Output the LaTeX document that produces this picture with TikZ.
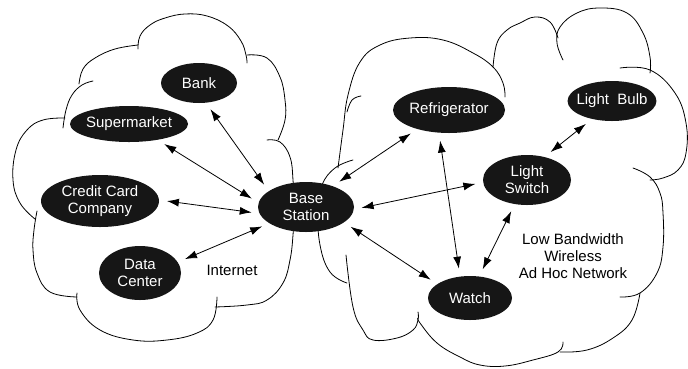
\documentclass[tikz,border=0pt]{standalone}
\usepackage{fontspec}
\setmainfont{Liberation Sans}
\usetikzlibrary{shapes.geometric,arrows.meta}
\definecolor{nodefill}{RGB}{22,22,22}
\begin{document}
\begin{tikzpicture}[x=1pt,y=-1pt,
  cloudline/.style={line width=0.8pt, line join=round, line cap=round},
  dev/.style={ellipse, fill=nodefill, text=white, inner xsep=-4pt, inner ysep=0pt, outer sep=0pt, align=center, font=\fontsize{15}{17}\selectfont},
  plain/.style={align=center, font=\fontsize{15}{17}\selectfont, inner sep=0pt},
  link/.style={line width=0.8pt, {Latex[length=12pt,width=8pt]}-{Latex[length=12pt,width=8pt]}, shorten <=8pt, shorten >=8pt}]
\useasboundingbox (0,0) rectangle (688,368);

% left cloud (Internet)
\begin{scope}[cloudline]
\draw plot[smooth, tension=0.7] coordinates {(138,49) (140,36) (150,25) (165,18) (185,14) (207,16) (228,26) (241,41) (246,55) (247,63)};
\draw plot[smooth, tension=0.7] coordinates {(79,84) (83,69) (95,58) (115,49) (138,45)};
\draw plot[smooth, tension=0.7] coordinates {(63,128) (66,110) (72,95) (82,85) (93,81)};
\draw plot[smooth, tension=0.7] coordinates {(65,118) (43,120) (27,130) (16,150) (13,180) (20,203) (35,219)};
\draw plot[smooth, tension=0.7] coordinates {(37,211) (34,230) (33,250) (37,273) (50,292) (77,297)};
\draw plot[smooth, tension=0.7] coordinates {(77,293) (80,310) (100,330) (133,340) (167,340) (197,333) (213,320) (217,297)};
\draw plot[smooth, tension=0.7] coordinates {(267,140) (280,142) (290,157) (293,180) (294,210) (293,235) (290,260) (283,283) (267,300) (247,305) (215,307)};
\draw plot[smooth, tension=0.7] coordinates {(247,55) (267,58) (280,77) (285,100) (285,120) (278,140)};
\end{scope}

% right cloud (ad hoc network)
\begin{scope}[cloudline]
\draw plot[smooth, tension=0.7] coordinates {(353,160) (335,168) (322,185) (318,210) (320,245) (330,272) (347,283)};
\draw plot[smooth, tension=0.7] coordinates {(338,168) (343,130) (348,95) (360,62) (380,45) (410,38) (443,40) (473,53) (493,67) (503,83) (505,97)};
\draw plot[smooth, tension=0.7] coordinates {(347,112) (352,100) (361,96)};
\draw plot[smooth, tension=0.7] coordinates {(493,67) (497,43) (507,30) (520,23) (535,17) (550,22) (558,38)};
\draw plot[smooth, tension=0.7] coordinates {(563,60) (557,43) (560,27) (577,13) (600,8) (627,13) (643,33) (650,57) (650,73)};
\draw plot[smooth, tension=0.7] coordinates {(620,68) (650,70) (675,93) (686,123) (686,153) (678,170) (663,178) (650,180)};
\draw plot[smooth, tension=0.7] coordinates {(633,168) (650,177) (660,193) (663,213) (663,247) (657,273) (640,293) (620,297)};
\draw plot[smooth, tension=0.7] coordinates {(640,293) (632,320) (613,338) (587,350) (560,352)};
\draw plot[smooth, tension=0.7] coordinates {(563,342) (558,352) (533,360) (505,366) (480,365) (460,357) (437,343) (420,323) (418,318)};
\draw plot[smooth, tension=0.7] coordinates {(418,312) (418,320) (413,330) (397,338) (373,340) (363,330) (353,307) (346,255)};
\end{scope}

% devices
\node[dev, minimum width=76pt, minimum height=40pt] (bank) at (199,83) {Bank};
\node[dev, minimum width=118pt, minimum height=36pt] (super) at (129,124) {Supermarket};
\node[dev, minimum width=118pt, minimum height=52pt] (credit) at (100,201) {Credit Card\\Company};
\node[dev, minimum width=82pt, minimum height=54pt] (data) at (140,273) {Data\\Center};
\node[dev, minimum width=96pt, minimum height=50pt] (base) at (306,207) {Base\\Station};
\node[dev, minimum width=112pt, minimum height=46pt] (fridge) at (449,110) {Refrigerator};
\node[dev, minimum width=88pt, minimum height=40pt] (bulb) at (612,101) {Light\ \ Bulb};
\node[dev, minimum width=88pt, minimum height=50pt] (switch) at (527,180) {Light\\Switch};
\node[dev, minimum width=84pt, minimum height=44pt] (watch) at (470,298) {Watch};

\node[plain] (internet) at (232,270) {Internet};
\node[plain] (adhoc) at (573,256) {Low Bandwidth\\Wireless\\Ad Hoc Network};

% links
\draw[link] (bank.-71) -- (base.157);
\draw[link] (super.-29) -- (base.175);
\draw[link] (credit.1) -- (base.-172);
\draw[link] (data.16) -- (base.-156);
\draw[link] (base.38) -- (fridge.-149);
\draw[link] (base.-3) -- (switch.-177);
\draw[link] (base.-22) -- (watch.157);
\draw[link] (fridge.-114) -- (watch.115);
\draw[link] (switch.-117) -- (watch.67);
\draw[link] (switch.53) -- (bulb.-138);
\end{tikzpicture}
\end{document}
